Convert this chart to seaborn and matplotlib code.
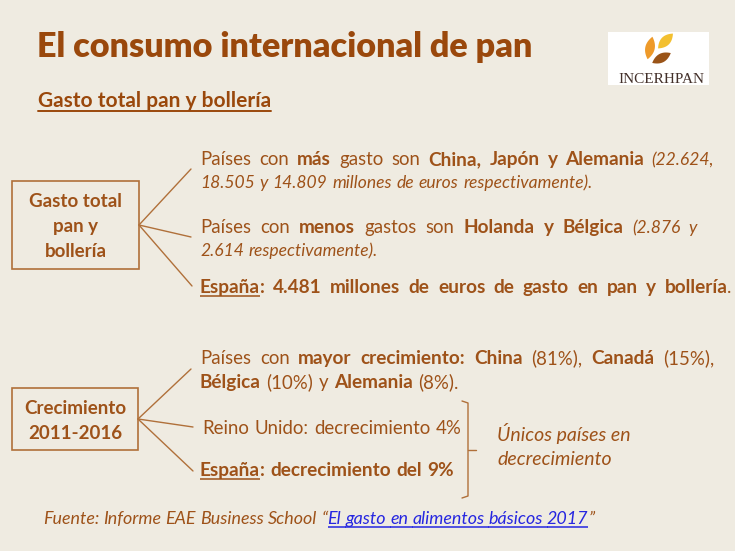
import re
import matplotlib
matplotlib.use("Agg")
import matplotlib.pyplot as plt
from matplotlib.patches import Rectangle, Polygon
import numpy as np
import seaborn as sns

sns.set_theme(style="white")
plt.rcParams['font.family'] = ['Lato', 'DejaVu Sans']

BG = "#EFEBE1"
TITLE_C = "#9A480C"
TEXT_C = "#9E5219"
LINE_C = "#B0703A"
LINK_C = "#2626E0"

# slide texts
title = "El consumo internacional de pan"
subtitle = "Gasto total pan y bollería"
logo_text = "INCERHPAN"
box1_lines = ["Gasto total", "pan y", "bollería"]
box2_lines = ["Crecimiento", "2011-2016"]

# runs: (text, style)  n normal, b bold, i italic, u bold underlined, link
gasto_mas_1 = [("Países con ", "n"), ("más", "b"), (" gasto son ", "n"),
               ("China, Japón y Alemania", "b"), (" (22.624,", "i")]
gasto_mas_2 = [("18.505 y 14.809 millones de euros respectivamente).", "i")]
gasto_menos_1 = [("Países con ", "n"), ("menos", "b"), (" gastos son ", "n"),
                 ("Holanda y Bélgica", "b"), (" (2.876 y", "i")]
gasto_menos_2 = [("2.614 respectivamente).", "i")]
gasto_esp = [("España", "u"), (": 4.481 millones de euros de gasto en pan y bollería", "b"), (".", "n")]
crec_1 = [("Países con ", "n"), ("mayor crecimiento: China", "b"), (" (81%), ", "n"),
          ("Canadá", "b"), (" (15%),", "n")]
crec_2 = [("Bélgica", "b"), (" (10%) y ", "n"), ("Alemania", "b"), (" (8%).", "n")]
crec_uk = [("Reino Unido: decrecimiento 4%", "n")]
crec_esp = [("España", "u"), (": decrecimiento del 9%", "b")]
unicos = ["Únicos países en", "decrecimiento"]
fuente = [("Fuente: Informe EAE Business School “", "i"),
          ("El gasto en alimentos básicos 2017", "link"), ("”", "i")]

STYLE = {
    "n": ("normal", "normal", TEXT_C, False),
    "b": ("bold", "normal", TEXT_C, False),
    "i": ("normal", "italic", TEXT_C, False),
    "u": ("bold", "normal", TEXT_C, True),
    "link": ("normal", "italic", LINK_C, True),
}
BODY_SIZES = {"n": 13.4, "b": 13.7, "u": 13.7, "i": 12.6, "link": 12.6}
FOOT_SIZES = {"i": 12.85, "link": 12.85}

fig = plt.figure(figsize=(7.35, 5.51), dpi=100)
fig.patch.set_facecolor(BG)
ax = fig.add_axes([0, 0, 1, 1])
ax.set_facecolor(BG)
ax.set_xlim(0, 735)
ax.set_ylim(551, 0)
ax.set_axis_off()
renderer = fig.canvas.get_renderer()


def text_width(s, size, weight, style, family=None):
    kw = {"family": family} if family else {}
    t = ax.text(0, 0, s, fontsize=size, fontweight=weight, fontstyle=style, **kw)
    w = t.get_window_extent(renderer).width
    t.remove()
    return w


def draw_runs(runs, x, y, sizes, right=None, space_scale=1.15):
    tokens = []
    for text, key in runs:
        for part in re.split(r"( )", text):
            if part:
                tokens.append((part, key))
    advances = []
    for part, key in tokens:
        weight, style, _, _ = STYLE[key]
        size = sizes[key]
        if part == " ":
            w = (text_width("a a", size, weight, style) - text_width("aa", size, weight, style)) * space_scale
        else:
            w = text_width(part + "x", size, weight, style) - text_width("x", size, weight, style)
        advances.append(w)
    n_sp = sum(1 for p, _ in tokens if p == " ")
    extra = 0
    if right is not None and n_sp:
        last, lkey = tokens[-1]
        lw = text_width(last, sizes[lkey], STYLE[lkey][0], STYLE[lkey][1])
        extra = (right - x - sum(advances[:-1]) - lw) / n_sp
    cx = x
    for (part, key), w in zip(tokens, advances):
        weight, style, color, ul = STYLE[key]
        if part == " ":
            w = w + extra
        else:
            ax.text(cx, y, part, fontsize=sizes[key], fontweight=weight, fontstyle=style,
                    color=color, ha="left", va="baseline")
        if ul:
            uw = w if part == " " else text_width(part, sizes[key], weight, style)
            if part == " ":
                uw += 1
            ax.plot([cx, cx + uw], [y + 3, y + 3], color=color, lw=1.1, solid_capstyle="butt")
        cx += w


# title and subtitle
ax.text(37, 57, title, fontsize=24.6, fontweight="heavy", color=TITLE_C, ha="left", va="baseline")
ax.text(38, 107, subtitle, fontsize=15, fontweight="bold", color=TITLE_C, ha="left", va="baseline")
sw = text_width(subtitle, 15, "bold", "normal")
ax.plot([38, 38 + sw], [111, 111], color=TITLE_C, lw=1.4)

# logo
ax.add_patch(Rectangle((608, 32), 101, 53, facecolor="white", edgecolor="none"))


def leaf(cx, cy, length, width, ang, color):
    t = np.linspace(-1, 1, 40)
    xs = np.concatenate([t, t[::-1]]) * length / 2
    ys = np.concatenate([(1 - t ** 2), -(1 - t[::-1] ** 2)]) * width / 2
    a = np.deg2rad(ang)
    px = cx + xs * np.cos(a) - ys * np.sin(a)
    py = cy - (xs * np.sin(a) + ys * np.cos(a))
    ax.add_patch(Polygon(np.column_stack([px, py]), closed=True, facecolor=color, edgecolor="none"))


leaf(650, 48, 23, 9.5, 78, "#EE9A2A")
leaf(665.5, 41, 21, 9.5, 45, "#F3C030")
leaf(661.5, 58, 21, 9, 28, "#9A5418")
ax.text(661, 83, logo_text, fontsize=11, family="Liberation Serif", color="#43302A",
        ha="center", va="baseline")

# block 1: gasto total
ax.add_patch(Rectangle((12, 181), 127, 88, facecolor="none", edgecolor=LINE_C, lw=1.2))
for line, yb in zip(box1_lines, [207, 232, 257]):
    ax.text(75.5, yb, line, fontsize=13.5, fontweight="bold", color=TEXT_C, ha="center", va="baseline")
for ex, ey in [(191, 169), (191, 237), (192, 286)]:
    ax.plot([139, ex], [225, ey], color=LINE_C, lw=1)

draw_runs(gasto_mas_1, 200, 165, BODY_SIZES, right=714)
draw_runs(gasto_mas_2, 200, 188, BODY_SIZES)
draw_runs(gasto_menos_1, 200, 233, BODY_SIZES, right=697)
draw_runs(gasto_menos_2, 200, 256, BODY_SIZES)
draw_runs(gasto_esp, 200, 293, BODY_SIZES, space_scale=1.8)

# block 2: crecimiento
ax.add_patch(Rectangle((12, 388), 126, 62, facecolor="none", edgecolor=LINE_C, lw=1.2))
for line, yb in zip(box2_lines, [414, 439]):
    ax.text(75, yb, line, fontsize=13.5, fontweight="bold", color=TEXT_C, ha="center", va="baseline")
for ex, ey in [(191, 369), (193, 427), (193, 471)]:
    ax.plot([138, ex], [419, ey], color=LINE_C, lw=1)

draw_runs(crec_1, 200, 364, BODY_SIZES, right=714)
draw_runs(crec_2, 200, 388, BODY_SIZES)
draw_runs(crec_uk, 202, 434, BODY_SIZES)
draw_runs(crec_esp, 200, 476, BODY_SIZES)

# bracket
ax.plot([462, 468, 468, 462], [401, 403, 496, 498], color=LINE_C, lw=1)
ax.plot([468, 476], [450, 450], color=LINE_C, lw=1)
for line, yb in zip(unicos, [441, 465]):
    ax.text(497, yb, line, fontsize=14, fontstyle="italic", color=TEXT_C, ha="left", va="baseline")

# source
draw_runs(fuente, 43, 524, FOOT_SIZES, space_scale=1.0)

fig.savefig("out.png", dpi=100, facecolor=BG)
